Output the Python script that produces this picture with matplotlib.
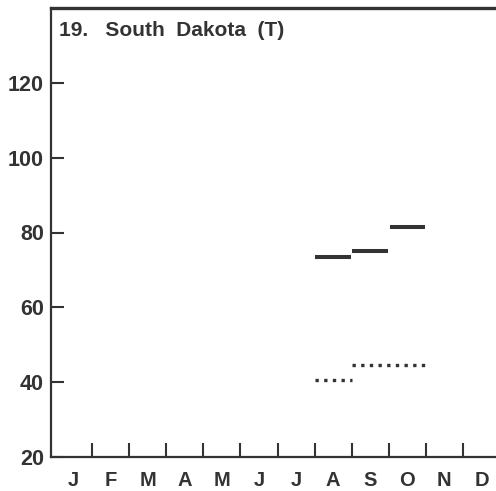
import matplotlib
matplotlib.use("Agg")
import matplotlib.pyplot as plt
import numpy as np

months = ["J", "F", "M", "A", "M", "J", "J", "A", "S", "O", "N", "D"]
solid_months = [7, 8, 9]          # Aug, Sep, Oct (0-based month index)
solid_values = [73.5, 75.0, 81.5]
dotted_months = [7, 8, 9]
dotted_values = [40.6, 44.7, 44.7]
yticks = [20, 40, 60, 80, 100, 120]
title = "19.   South  Dakota  (T)"

plt.rcParams['font.family'] = ['Liberation Sans', 'DejaVu Sans']
ink = "#333333"

fig = plt.figure(figsize=(4.96, 4.91), dpi=100)
ax = fig.add_axes([51/496, 34/491, (500-51)/496, 449/491])
ax.set_xlim(-0.11, 12.0)
ax.set_ylim(20, 140)

for m, v in zip(solid_months, solid_values):
    ax.plot([m + 0.02, m + 0.98], [v, v], color=ink, lw=2.9, solid_capstyle='butt')

# group consecutive months with equal values into one dotted run
runs = []
for m, v in zip(dotted_months, dotted_values):
    if runs and runs[-1][2] == v and runs[-1][1] == m:
        runs[-1][1] = m + 1
    else:
        runs.append([m, m + 1, v])
for start, end, v in runs:
    ax.plot([start + 0.02, end], [v, v], color=ink, lw=2.4,
            linestyle=(0, (1, 1.6)), dash_capstyle='butt')

for side in ['left', 'bottom']:
    ax.spines[side].set_linewidth(1.6)
    ax.spines[side].set_color(ink)
ax.spines['top'].set_linewidth(2.4)
ax.spines['top'].set_color(ink)
ax.spines['right'].set_visible(False)

ax.set_yticks(yticks)
ax.set_yticklabels([str(t) for t in yticks])
ax.tick_params(axis='y', direction='in', length=9.5, width=1.5, color=ink,
               labelsize=15.5, labelcolor=ink, pad=5)

ax.set_xticks(np.arange(12) + 0.5)
ax.set_xticklabels(months)
ax.set_xticks(np.arange(1, 12), minor=True)
ax.tick_params(axis='x', which='major', length=0, labelsize=14.5, labelcolor=ink, pad=10)
ax.tick_params(axis='x', which='minor', direction='in', length=10, width=1.5, color=ink)

for lab in ax.get_xticklabels() + ax.get_yticklabels():
    lab.set_fontweight('bold')

ax.text((59-51)/445, (457-36)/449, title, transform=ax.transAxes, fontsize=15,
        fontweight='bold', color=ink, va='baseline', ha='left')

fig.savefig("out.png", dpi=100)
